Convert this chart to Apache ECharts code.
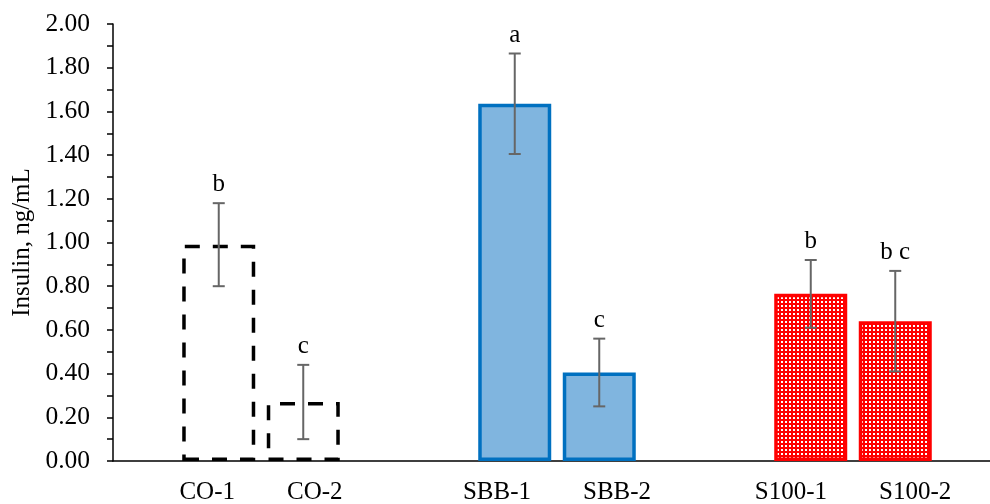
<!DOCTYPE html>
<html>
<head>
<meta charset="utf-8">
<script src="https://cdn.jsdelivr.net/npm/echarts@6/dist/echarts.min.js"></script>
<style>
  html, body { margin: 0; padding: 0; background: #ffffff; }
  #chart { width: 990px; height: 504px; }
</style>
</head>
<body>
<div id="chart"></div>
<script>
// Treatment groups (one category per group, two bars each)
const groups = ['CO', 'SBB', 'S100'];
// Individual bar names, in drawing order
const barLabels = ['CO-1', 'CO-2', 'SBB-1', 'SBB-2', 'S100-1', 'S100-2'];
// Mean insulin, ng/mL
const insulinMean = [0.99, 0.27, 1.635, 0.405, 0.765, 0.64];
// Error (± half-length of each error bar), ng/mL
const insulinErr = [0.19, 0.17, 0.23, 0.155, 0.155, 0.23];
// Significance letters above each bar
const letters = ['b', 'c', 'a', 'c', 'b', 'b c'];

const FONT = 'Liberation Serif';
const FS = 25;
const BAR_W = 73;
const GAP_PX = 11.5;

// Red fill with a fine grid of white dots
const dotTile = (() => {
  const c = document.createElement('canvas');
  c.width = 4; c.height = 4;
  const g = c.getContext('2d');
  g.fillStyle = '#ff0000';
  g.fillRect(0, 0, 4, 4);
  g.fillStyle = '#ffffff';
  g.fillRect(1, 1, 2, 2);
  return c;
})();

const groupStyles = [
  { color: 'rgba(255,255,255,0)', borderColor: '#000000', borderWidth: 3.5, borderType: [15, 13] },
  { color: '#80b5df', borderColor: '#0070c0', borderWidth: 3.5 },
  { color: { image: dotTile, repeat: 'repeat' }, borderColor: '#ff0000', borderWidth: 3.5 }
];

function barSeries(k) {
  return {
    type: 'bar',
    barWidth: BAR_W,
    barGap: (GAP_PX / BAR_W * 100).toFixed(1) + '%',
    silent: true,
    animation: false,
    data: groups.map((g, gi) => ({
      value: insulinMean[gi * 2 + k],
      itemStyle: groupStyles[gi]
    }))
  };
}

const errorSeries = {
  type: 'custom',
  z: 5,
  silent: true,
  animation: false,
  encode: { x: 0, y: 1 },
  data: barLabels.map((_, i) => [Math.floor(i / 2), insulinMean[i], insulinErr[i], i]),
  renderItem(params, api) {
    const i = api.value(3);
    const dx = (i % 2 === 0 ? -1 : 1) * (BAR_W + GAP_PX) / 2;
    const hi = api.coord([api.value(0), api.value(1) + api.value(2)]);
    const lo = api.coord([api.value(0), api.value(1) - api.value(2)]);
    const x = hi[0] + dx;
    const st = { stroke: '#666666', lineWidth: 2 };
    return {
      type: 'group',
      children: [
        { type: 'line', shape: { x1: x, y1: hi[1], x2: x, y2: lo[1] }, style: st },
        { type: 'line', shape: { x1: x - 6, y1: hi[1], x2: x + 6, y2: hi[1] }, style: st },
        { type: 'line', shape: { x1: x - 6, y1: lo[1], x2: x + 6, y2: lo[1] }, style: st },
        {
          type: 'text', x: x, y: hi[1] - 6,
          style: {
            text: letters[i], fill: '#000000',
            fontFamily: FONT, fontSize: FS,
            align: 'center', verticalAlign: 'bottom'
          }
        }
      ]
    };
  }
};

const chart = echarts.init(document.getElementById('chart'), null, { renderer: 'canvas' });
chart.setOption({
  animation: false,
  backgroundColor: '#ffffff',
  grid: {
    left: 113, width: 888, top: 24, bottom: 43,
    containLabel: false, outerBoundsMode: 'none'
  },
  xAxis: {
    type: 'category',
    data: groups,
    axisLine: { show: true, lineStyle: { color: '#000000', width: 1.5 } },
    axisTick: { show: false },
    axisLabel: {
      show: true, interval: 0, margin: 19,
      formatter: (v, idx) => `{t|${barLabels[idx * 2]}}{gap|}{t|${barLabels[idx * 2 + 1]}}`,
      rich: {
        t: { fontFamily: FONT, fontSize: FS, color: '#000000' },
        gap: { width: 52 }
      }
    },
    splitLine: { show: false }
  },
  yAxis: {
    type: 'value',
    min: 0, max: 2, interval: 0.2,
    name: 'Insulin, ng/mL',
    nameLocation: 'middle',
    nameGap: 74,
    nameRotate: 90,
    nameTextStyle: { fontFamily: FONT, fontSize: FS, color: '#000000' },
    axisLine: { show: true, lineStyle: { color: '#000000', width: 1.5 } },
    axisTick: { show: true, length: 6, lineStyle: { color: '#000000', width: 1.5 } },
    minorTick: { show: true, splitNumber: 2, length: 6, lineStyle: { color: '#000000', width: 1.5 } },
    splitLine: { show: false },
    axisLabel: {
      margin: 23,
      fontFamily: FONT, fontSize: 25.5, color: '#000000',
      formatter: v => v.toFixed(2)
    }
  },
  series: [barSeries(0), barSeries(1), errorSeries]
});
</script>
</body>
</html>
